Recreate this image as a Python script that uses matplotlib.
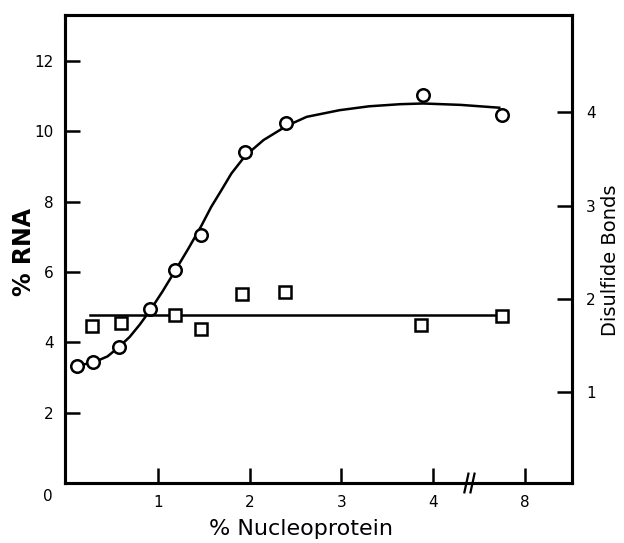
import numpy as np
import matplotlib
matplotlib.use('Agg')
import matplotlib.pyplot as plt

# x is in axis positions; positions past the break (> 4.44) belong to the "8" segment
rna_x = [0.12, 0.29, 0.575, 0.915, 1.19, 1.47, 1.95, 2.40, 3.89, 4.745]
rna_y = [3.34, 3.44, 3.87, 4.95, 6.05, 7.06, 9.41, 10.23, 11.02, 10.47]

# hand drawn trend curve through the RNA points
curve_x = [0.12, 0.29, 0.45, 0.575, 0.69, 0.80, 0.92, 1.05, 1.19, 1.33, 1.47,
           1.58, 1.69, 1.80, 1.95, 2.15, 2.40, 2.62, 2.98, 3.30, 3.64, 3.89,
           4.30, 4.72]
curve_y = [3.34, 3.42, 3.60, 3.87, 4.15, 4.50, 4.93, 5.45, 6.05, 6.66, 7.30,
           7.85, 8.32, 8.80, 9.30, 9.75, 10.15, 10.41, 10.60, 10.71, 10.77,
           10.79, 10.75, 10.67]

ss_x = [0.285, 0.60, 1.18, 1.47, 1.92, 2.38, 3.87, 4.755]
ss_y = [1.71, 1.74, 1.83, 1.68, 2.05, 2.07, 1.72, 1.82]
ss_line_x = [0.26, 4.755]
ss_line_y = [1.83, 1.83]

xtick_pos = [1, 2, 3, 4, 5]
xtick_lab = ['1', '2', '3', '4', '8']
ytick_left = [2, 4, 6, 8, 10, 12]
ytick_right = [1, 2, 3, 4]

fig = plt.figure(figsize=(6.24, 5.43), dpi=100)
ax = fig.add_axes([0.104, 0.1105, 0.813, 0.8615])
ax2 = ax.twinx()

ax.plot(curve_x, curve_y, color='black', lw=1.8, zorder=2)
ax.plot(rna_x, rna_y, 'o', ms=9, mfc='white', mec='black', mew=1.8, zorder=3)

ax2.plot(ss_line_x, ss_line_y, color='black', lw=1.8, zorder=2)
ax2.plot(ss_x, ss_y, 's', ms=8.5, mfc='white', mec='black', mew=1.8, zorder=3)

ax.set_xlim(-0.015, 5.515)
ax.set_ylim(0, 13.3)
ax2.set_ylim(0.026, 5.04)

ax.set_xticks(xtick_pos)
ax.set_xticklabels(xtick_lab)
ax.set_yticks(ytick_left)
ax2.set_yticks(ytick_right)

for a in (ax, ax2):
    for s in a.spines.values():
        s.set_linewidth(2.2)
ax.tick_params(axis='both', direction='in', length=11, width=1.8,
               labelsize=11, pad=8)
ax.tick_params(axis='x', pad=9)
ax2.tick_params(axis='y', direction='in', length=11, width=1.8,
                labelsize=11, pad=10)

ax.text(-0.025, -0.012, '0', transform=ax.transAxes, ha='right', va='top',
        fontsize=11)

# axis break marks
for dx in (-0.006, 0.006):
    ax.plot([4.41 / 5.53 + dx - 0.004, 4.41 / 5.53 + dx + 0.004],
            [-0.02, 0.02], transform=ax.transAxes, color='black', lw=1.6,
            clip_on=False)

fig.text(0.482, 0.026, '% Nucleoprotein', fontsize=16, ha='center',
         va='center')
fig.text(0.038, 0.536, '% RNA', fontsize=17, fontweight='bold',
         rotation=90, ha='center', va='center')
fig.text(0.979, 0.52, 'Disulfide Bonds', fontsize=14, rotation=90,
         ha='center', va='center')

fig.savefig('out.png', dpi=100)
